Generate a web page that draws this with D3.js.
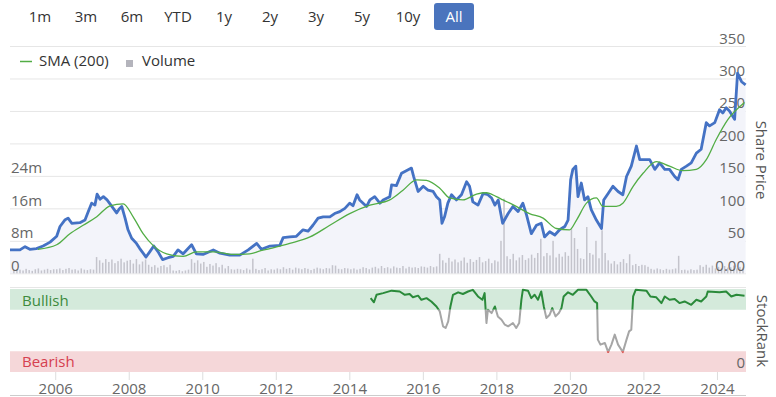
<!DOCTYPE html>
<html>
<head>
<meta charset="utf-8">
<script src="https://cdn.jsdelivr.net/npm/d3@7"></script>
<style>
  body { margin: 0; background: #fff; }
  svg { display: block; }
</style>
</head>
<body>
<svg id="chart"></svg>
<script>
const ranges = ["1m", "3m", "6m", "YTD", "1y", "2y", "3y", "5y", "10y", "All"]
const priceTicks = [0, 50, 100, 150, 200, 250, 300, 350]
const volumeTicks = [0, 8, 16, 24]
const yearTicks = [2006, 2008, 2010, 2012, 2014, 2016, 2018, 2020, 2022, 2024]

// share price (decimal year, price)
const priceT = [
  2004.77, 2005.04, 2005.18, 2005.31, 2005.49, 2005.67, 2005.86, 2006.04, 2006.13, 2006.26,
  2006.35, 2006.45, 2006.67, 2006.81, 2006.90, 2006.99, 2007.08, 2007.14, 2007.22, 2007.31,
  2007.41, 2007.49, 2007.58, 2007.67, 2007.74, 2007.81, 2007.90, 2007.98, 2008.08, 2008.21,
  2008.30, 2008.47, 2008.57, 2008.68, 2008.80, 2008.92, 2009.07, 2009.21, 2009.34, 2009.48,
  2009.71, 2009.84, 2010.02, 2010.30, 2010.48, 2010.75, 2011.02, 2011.25, 2011.48, 2011.61,
  2011.84, 2012.11, 2012.20, 2012.38, 2012.56, 2012.74, 2012.88, 2013.01, 2013.15, 2013.29,
  2013.47, 2013.60, 2013.74, 2013.88, 2014.01, 2014.10, 2014.21, 2014.28, 2014.47, 2014.56,
  2014.69, 2014.83, 2014.92, 2015.10, 2015.15, 2015.28, 2015.42, 2015.55, 2015.69, 2015.75,
  2015.87, 2016.01, 2016.14, 2016.28, 2016.37, 2016.46, 2016.52, 2016.59, 2016.68, 2016.78,
  2016.91, 2017.05, 2017.19, 2017.27, 2017.36, 2017.50, 2017.64, 2017.77, 2017.87, 2017.96,
  2018.05, 2018.17, 2018.32, 2018.45, 2018.59, 2018.72, 2018.82, 2018.95, 2019.09, 2019.22,
  2019.31, 2019.45, 2019.59, 2019.72, 2019.86, 2019.95, 2020.02, 2020.08, 2020.16, 2020.22,
  2020.31, 2020.40, 2020.49, 2020.58, 2020.72, 2020.86, 2020.92, 2021.04, 2021.17, 2021.31,
  2021.44, 2021.54, 2021.67, 2021.81, 2021.90, 2022.03, 2022.17, 2022.31, 2022.44, 2022.58,
  2022.71, 2022.85, 2022.94, 2023.03, 2023.17, 2023.30, 2023.44, 2023.57, 2023.71, 2023.80,
  2023.94, 2024.07, 2024.16, 2024.25, 2024.34, 2024.48, 2024.56, 2024.67, 2024.78
]
const priceV = [
  36, 36, 41, 37, 38, 42, 48, 57, 72, 82,
  85, 77, 78, 82, 95, 108, 105, 122, 114, 118,
  113, 107, 100, 93, 99, 103, 85, 67, 54, 46,
  38, 25, 33, 42, 33, 21, 24, 26, 36, 30,
  44, 30, 29, 36, 31, 28, 28, 36, 46, 37,
  42, 43, 55, 56, 57, 67, 65, 74, 85, 87,
  87, 92, 95, 100, 108, 104, 121, 113, 103, 113,
  118, 108, 113, 118, 136, 135, 154, 158, 162, 149,
  126, 134, 128, 126, 118, 113, 77, 87, 108, 121,
  113, 121, 141, 134, 110, 105, 123, 121, 116, 105,
  113, 77, 92, 103, 95, 108, 90, 61, 74, 77,
  56, 64, 59, 67, 72, 82, 144, 160, 165, 118,
  139, 113, 118, 98, 82, 69, 113, 123, 134, 126,
  121, 149, 165, 196, 175, 175, 175, 160, 170, 160,
  160, 149, 144, 160, 165, 170, 185, 191, 232, 227,
  232, 252, 247, 255, 250, 237, 308, 295, 290
]

// 200-day moving average
const smaT = [
  2005.53, 2006.04, 2006.40, 2006.76, 2007.13, 2007.49, 2007.85, 2008.12, 2008.39, 2008.66,
  2009.03, 2009.48, 2009.84, 2010.30, 2010.84, 2011.29, 2011.55, 2011.84, 2012.38, 2012.93,
  2013.47, 2014.01, 2014.56, 2015.10, 2015.46, 2015.83, 2016.10, 2016.46, 2016.73, 2017.09,
  2017.46, 2017.73, 2018.00, 2018.18, 2018.54, 2018.90, 2019.27, 2019.63, 2019.99, 2020.18,
  2020.45, 2020.72, 2020.90, 2021.26, 2021.44, 2021.72, 2021.99, 2022.35, 2022.71, 2023.07,
  2023.44, 2023.71, 2023.98, 2024.30, 2024.75
]
const smaV = [
  37, 44, 61, 74, 87, 104, 107, 87, 61, 43,
  30, 26, 33, 33, 29, 30, 34, 38, 46, 56,
  74, 92, 105, 113, 128, 144, 143, 131, 116, 113,
  122, 124, 118, 113, 103, 92, 85, 69, 67, 82,
  108, 116, 103, 103, 108, 134, 154, 172, 165, 158,
  160, 175, 206, 237, 263
]

// monthly volume in millions, from Nov 2004
const volStart = 2004 + 10 / 12
const volume = [
  0.8, 1.0,
  0.9, 0.7, 1.1, 0.8, 0.6, 1.0, 1.2, 0.7, 0.9, 1.1, 0.8, 1.0,
  1.0, 1.2, 0.8, 1.1, 1.3, 0.9, 1.0, 0.7, 1.2, 0.9, 0.8, 1.0,
  0.9, 4.0, 3.2, 2.6, 3.5, 2.8, 3.4, 2.5, 3.0, 3.6, 2.7, 3.1,
  3.3, 2.4, 3.5, 2.2, 2.9, 3.4, 2.1, 1.6, 2.0, 1.4, 1.8, 2.0,
  1.5, 2.1, 0.7, 0.6, 0.8, 0.5, 0.7, 0.9, 3.5, 2.6, 3.2, 2.4,
  2.8, 1.6, 2.3, 1.9, 2.5, 1.5, 2.1, 1.2, 1.8, 1.0, 0.9, 1.1,
  1.0, 0.8, 1.2, 0.9, 3.6, 1.1, 0.8, 1.0, 1.3, 0.7, 1.0, 0.9,
  1.2, 1.0, 1.5, 1.1, 1.3, 0.9, 1.4, 1.2, 1.0, 1.3, 1.1, 0.8,
  1.1, 1.4, 1.2, 1.0, 1.3, 1.2, 2.0, 1.9, 1.1, 1.0, 1.3, 1.2,
  1.0, 1.2, 0.9, 1.1, 1.5, 1.3, 1.0, 1.4, 1.6, 1.2, 1.8, 1.3,
  1.5, 1.2, 1.7, 1.4, 1.3, 1.8, 1.2, 1.6, 1.4, 1.5, 1.3, 1.7,
  1.6, 1.4, 1.8, 1.5, 1.7, 4.8, 3.2, 2.6, 3.8, 2.9, 3.4, 2.7,
  3.1, 3.9, 2.6, 3.5, 2.8, 3.3, 4.0, 2.7, 3.0, 3.6, 2.5, 3.2,
  2.9, 8.0, 18.4, 4.2, 3.5, 4.8, 3.2, 3.9, 4.5, 3.3, 3.7, 4.6,
  3.8, 5.0, 8.5, 4.2, 5.0, 4.4, 8.0, 3.9, 4.8, 4.1, 5.2, 4.3,
  11.0, 8.7, 6.0, 3.7, 3.5, 11.4, 5.0, 4.6, 8.0, 3.7, 10.6, 5.0,
  3.2, 2.4, 3.0, 2.2, 2.8, 3.5, 2.5, 4.7, 2.0, 2.3, 1.8, 2.1,
  2.0, 1.6, 1.1, 0.9, 1.2, 1.0, 0.8, 1.1, 0.9, 1.0, 1.2, 4.3,
  0.8, 0.9, 0.7, 1.0, 0.8, 0.9, 2.0, 1.6, 2.1, 1.4, 1.9, 1.2,
  1.6, 1.3, 1.8, 1.4, 1.5, 1.9, 1.2, 1.6, 1.4
]

// StockRank score 0-100
const rankT = [
  2014.58, 2014.67, 2014.74, 2014.92, 2015.15, 2015.37, 2015.51, 2015.64, 2015.73, 2015.87,
  2015.96, 2016.10, 2016.23, 2016.37, 2016.46, 2016.55, 2016.62, 2016.69, 2016.75, 2016.82,
  2016.96, 2017.09, 2017.23, 2017.36, 2017.50, 2017.62, 2017.68, 2017.73, 2017.77, 2017.87,
  2017.96, 2018.04, 2018.14, 2018.23, 2018.32, 2018.45, 2018.54, 2018.62, 2018.68, 2018.72,
  2018.86, 2018.95, 2019.04, 2019.13, 2019.22, 2019.29, 2019.36, 2019.45, 2019.52, 2019.61,
  2019.70, 2019.77, 2019.83, 2019.95, 2020.08, 2020.22, 2020.45, 2020.58, 2020.67, 2020.74,
  2020.76, 2020.83, 2020.95, 2021.04, 2021.13, 2021.22, 2021.31, 2021.44, 2021.54, 2021.61,
  2021.67, 2021.72, 2021.79, 2022.08, 2022.19, 2022.35, 2022.49, 2022.58, 2022.71, 2022.85,
  2022.98, 2023.12, 2023.30, 2023.44, 2023.57, 2023.71, 2023.75, 2024.07, 2024.25, 2024.39,
  2024.53, 2024.75
]
const rankV = [
  89, 84, 93, 95, 98, 97, 93, 94, 90, 92,
  87, 89, 85, 79, 73, 55, 53, 61, 79, 93,
  96, 94, 97, 99, 91, 87, 95, 59, 75, 71,
  79, 67, 63, 57, 55, 59, 53, 59, 87, 99,
  98, 89, 93, 87, 97, 79, 65, 69, 77, 67,
  71, 77, 91, 96, 93, 99, 99, 91, 85, 83,
  39, 33, 35, 24, 33, 45, 33, 24, 39, 49,
  51, 91, 99, 98, 91, 90, 83, 91, 87, 88,
  83, 85, 81, 87, 85, 91, 97, 96, 97, 91,
  93, 92
]

const width = 776, height = 397
const left = 10, right = 746
const font = "'Open Sans', 'Noto Sans', sans-serif"

const x = d3.scaleLinear().domain([2004.77, 2024.79]).range([left, right])
const yPrice = d3.scaleLinear().domain([0, 350]).range([273.3, 46])
const yVol = d3.scaleLinear().domain([0, 56]).range([273.3, 46])
const yRank = d3.scaleLinear().domain([0, 100]).range([372, 289])

const svg = d3.select("#chart")
    .attr("width", width)
    .attr("height", height)
    .attr("viewBox", [0, 0, width, height])
    .style("font-family", font)

// range selector
const btn = svg.append("g")
  .selectAll("g")
  .data(ranges)
  .join("g")
    .attr("transform", (d, i) => `translate(${40 + 46 * i},0)`)
btn.filter(d => d === "All").append("rect")
    .attr("x", -20).attr("y", 3)
    .attr("width", 40).attr("height", 27)
    .attr("rx", 3)
    .attr("fill", "#4a74bd")
btn.append("text")
    .attr("y", 22)
    .attr("text-anchor", "middle")
    .attr("font-size", 15)
    .attr("fill", d => d === "All" ? "#fff" : "#333")
    .text(d => d)

// grid
svg.append("g")
    .attr("transform", `translate(${right},0)`)
    .call(d3.axisLeft(yPrice).tickValues(priceTicks).tickSize(right - left).tickFormat(""))
    .call(g => g.select(".domain").remove())
    .call(g => g.selectAll("line").attr("stroke", "#e6e6e6"))

// area under price
const pricePts = priceT.map((t, i) => ({ t, v: priceV[i] }))
svg.append("path")
    .datum(pricePts)
    .attr("fill", "#f3f4fa")
    .attr("d", d3.area().x(d => x(d.t)).y0(yPrice(0)).y1(d => yPrice(d.v)))

// volume
svg.append("g")
    .attr("fill", "#c4c4cc")
  .selectAll("rect")
  .data(volume)
  .join("rect")
    .attr("x", (d, i) => x(volStart + i / 12 + 1 / 24) - 0.75)
    .attr("width", 1.5)
    .attr("y", d => yVol(d))
    .attr("height", d => yVol(0) - yVol(d))

// axis labels
svg.append("g")
    .attr("transform", `translate(${right},0)`)
    .call(d3.axisLeft(yPrice).tickValues(priceTicks).tickSize(0).tickPadding(1)
      .tickFormat(d => d === 0 ? "0.00" : d))
    .attr("font-family", font)
    .attr("font-size", 15)
    .call(g => g.select(".domain").remove())
    .call(g => g.selectAll("text").attr("dy", -3).attr("fill", "#666"))

svg.append("g")
    .attr("transform", `translate(${left},0)`)
    .call(d3.axisRight(yVol).tickValues(volumeTicks).tickSize(0).tickPadding(1)
      .tickFormat(d => d === 0 ? "0" : d + "m"))
    .attr("font-family", font)
    .attr("font-size", 15)
    .call(g => g.select(".domain").remove())
    .call(g => g.selectAll("text").attr("dy", -3).attr("fill", "#666"))

// price + sma
svg.append("path")
    .datum(pricePts)
    .attr("fill", "none")
    .attr("stroke", "#4472c4")
    .attr("stroke-width", 2.8)
    .attr("stroke-linejoin", "round")
    .attr("d", d3.line().x(d => x(d.t)).y(d => yPrice(d.v)))

svg.append("path")
    .datum(smaT.map((t, i) => ({ t, v: smaV[i] })))
    .attr("fill", "none")
    .attr("stroke", "#52ad45")
    .attr("stroke-width", 1.3)
    .attr("d", d3.line().curve(d3.curveMonotoneX).x(d => x(d.t)).y(d => yPrice(d.v)))

// legend
const legend = svg.append("g").attr("font-size", 15).attr("fill", "#333")
legend.append("line")
    .attr("x1", 20).attr("x2", 32).attr("y1", 61.5).attr("y2", 61.5)
    .attr("stroke", "#52ad45").attr("stroke-width", 1.5)
legend.append("text").attr("x", 39).attr("y", 66).text("SMA (200)")
legend.append("rect")
    .attr("x", 126).attr("y", 60).attr("width", 7).attr("height", 7)
    .attr("fill", "#b4b4bc")
legend.append("text").attr("x", 142).attr("y", 66).text("Volume")

svg.append("text")
    .attr("transform", "translate(761,160) rotate(90)")
    .attr("text-anchor", "middle")
    .attr("dy", "0.35em")
    .attr("font-size", 15)
    .attr("fill", "#555")
    .text("Share Price")

// StockRank panel
svg.append("line")
    .attr("x1", left).attr("x2", right).attr("y1", 287.5).attr("y2", 287.5)
    .attr("stroke", "#e6e6e6")
svg.append("rect")
    .attr("x", left).attr("width", right - left)
    .attr("y", yRank(100)).attr("height", yRank(75) - yRank(100))
    .attr("fill", "#d4eadb")
svg.append("rect")
    .attr("x", left).attr("width", right - left)
    .attr("y", yRank(25)).attr("height", yRank(0) - yRank(25))
    .attr("fill", "#f5d7d9")
svg.append("text")
    .attr("x", 22).attr("y", 306).attr("font-size", 15).attr("fill", "#3d8b3d")
    .text("Bullish")
svg.append("text")
    .attr("x", 22).attr("y", 367).attr("font-size", 15).attr("fill", "#d6404f")
    .text("Bearish")

svg.append("g")
    .attr("transform", `translate(${right},0)`)
    .call(d3.axisLeft(yRank).tickValues([0]).tickSize(0).tickPadding(1))
    .attr("font-family", font)
    .attr("font-size", 15)
    .call(g => g.select(".domain").remove())
    .call(g => g.selectAll("text").attr("dy", -5).attr("fill", "#666"))

const defs = svg.append("defs")
const zones = [
  { id: "zGreen", y0: 0, y1: yRank(75), color: "#2a8a3a" },
  { id: "zGrey", y0: yRank(75), y1: yRank(25), color: "#a6a6a6" },
  { id: "zRed", y0: yRank(25), y1: height, color: "#d9534f" }
]
zones.forEach(z => {
  defs.append("clipPath").attr("id", z.id)
    .append("rect").attr("x", 0).attr("width", width).attr("y", z.y0).attr("height", z.y1 - z.y0)
})
const rankPts = rankT.map((t, i) => ({ t, v: rankV[i] }))
const rankLine = d3.line().x(d => x(d.t)).y(d => yRank(d.v))
zones.forEach(z => {
  svg.append("path")
      .datum(rankPts)
      .attr("clip-path", `url(#${z.id})`)
      .attr("fill", "none")
      .attr("stroke", z.color)
      .attr("stroke-width", 2)
      .attr("stroke-linejoin", "round")
      .attr("d", rankLine)
})

svg.append("text")
    .attr("transform", "translate(762,331) rotate(90)")
    .attr("text-anchor", "middle")
    .attr("dy", "0.35em")
    .attr("font-size", 15)
    .attr("fill", "#555")
    .text("StockRank")

// x axis
svg.append("g")
    .attr("transform", `translate(0,${yRank(0)})`)
    .call(d3.axisBottom(x).tickValues(yearTicks).tickSize(8).tickPadding(3).tickFormat(d3.format("d")))
    .attr("font-family", font)
    .attr("font-size", 15)
    .call(g => g.select(".domain").remove())
    .call(g => g.selectAll("line").attr("stroke", "#ddd"))
    .call(g => g.selectAll("text").attr("fill", "#666"))

svg.append("line")
    .attr("x1", left).attr("x2", right).attr("y1", 395.5).attr("y2", 395.5)
    .attr("stroke", "#ccc")
</script>
</body>
</html>
